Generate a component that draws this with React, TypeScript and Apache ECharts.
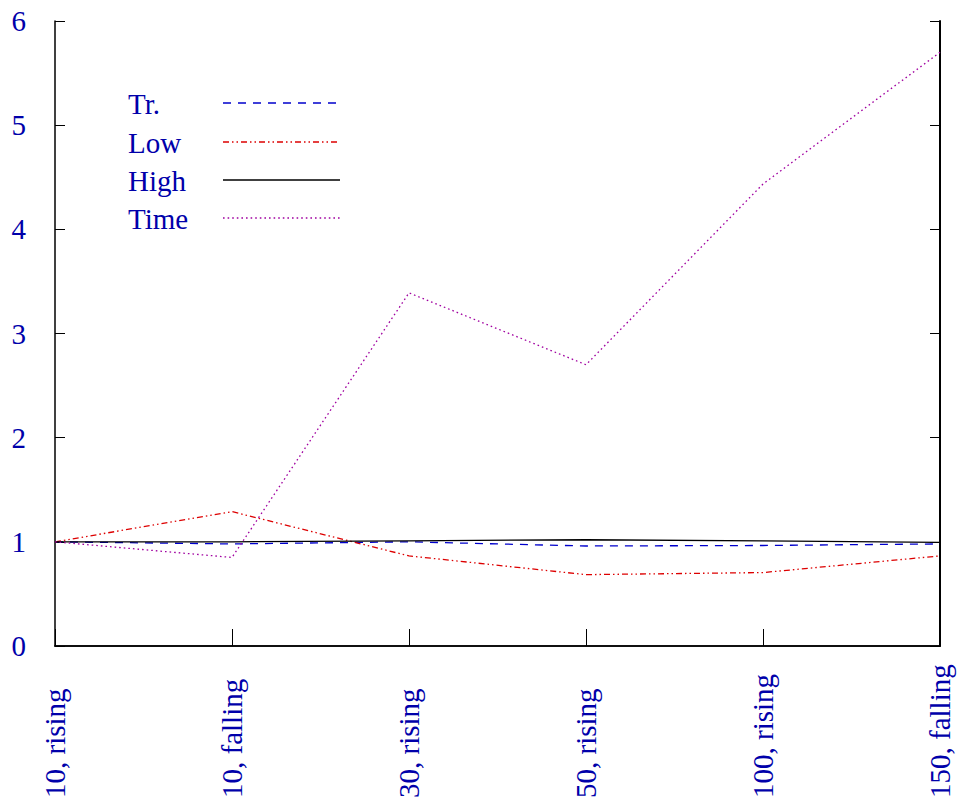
import React, { useEffect, useRef } from "react";
import * as echarts from "echarts";

const categories = ["10, rising", "10, falling", "30, rising", "50, rising", "100, rising", "150, falling"];
const trValues = [1.0, 0.98, 1.0, 0.96, 0.965, 0.98];
const lowValues = [1.0, 1.29, 0.865, 0.685, 0.705, 0.865];
const highValues = [1.0, 1.0, 1.01, 1.02, 1.01, 0.995];
const timeValues = [1.0, 0.85, 3.39, 2.7, 4.435, 5.7];
const yTicks = [0, 1, 2, 3, 4, 5, 6];
const legendNames = ["Tr.", "Low", "High", "Time"];

const FONT = "'Liberation Serif', 'Times New Roman', 'DejaVu Serif', serif";
const TEXT_COLOR = "#0000aa";

const styles = [
  { color: "#0000cc", width: 1.3, type: [8, 7] as any },
  { color: "#dd0000", width: 1.3, type: [6, 3, 1.5, 3, 1.5, 3] as any },
  { color: "#000000", width: 1.3, type: "solid" as any },
  { color: "#a000a0", width: 1.3, type: [1.6, 3] as any },
];

export default function App() {
  const ref = useRef<HTMLDivElement>(null);
  useEffect(() => {
    if (!ref.current) return;
    const chart = echarts.init(ref.current, undefined, { renderer: "svg" });
    const seriesData = [trValues, lowValues, highValues, timeValues];
    const legendGraphics: any[] = [];
    const baseY = [104, 143, 181, 219];
    legendNames.forEach((name, i) => {
      legendGraphics.push({
        type: "text",
        left: 128,
        top: baseY[i] - 15,
        style: { text: name, fill: TEXT_COLOR, font: `29px ${FONT}` },
      });
      legendGraphics.push({
        type: "line",
        shape: { x1: 223, y1: baseY[i] - 1, x2: 340, y2: baseY[i] - 1 },
        style: { stroke: styles[i].color, lineWidth: styles[i].width, lineDash: Array.isArray(styles[i].type) ? styles[i].type : null },
      });
    });
    chart.setOption({
      animation: false,
      backgroundColor: "#ffffff",
      grid: { left: 55, right: 18, top: 21, bottom: 155, containLabel: false },
      xAxis: [
        {
          type: "category",
          data: categories,
          boundaryGap: false,
          position: "bottom",
          axisLine: { show: true, lineStyle: { color: "#000", width: 1.5 } },
          axisTick: { show: true, inside: true, length: 17, alignWithLabel: true, interval: 0, lineStyle: { color: "#000", width: 1 } },
          axisLabel: {
            show: true,
            rotate: 90,
            interval: 0,
            margin: 152,
            align: "left",
            verticalAlign: "middle",
            hideOverlap: false,
            color: TEXT_COLOR,
            fontFamily: FONT,
            fontSize: 29,
          },
          splitLine: { show: false },
        },
        {
          type: "category",
          data: categories,
          boundaryGap: false,
          position: "top",
          axisLine: { show: true, lineStyle: { color: "#000", width: 1.5 } },
          axisTick: { show: false },
          axisLabel: { show: false },
          splitLine: { show: false },
        },
      ],
      yAxis: [
        {
          type: "value",
          min: yTicks[0],
          max: yTicks[yTicks.length - 1],
          interval: 1,
          position: "left",
          axisLine: { show: true, lineStyle: { color: "#000", width: 1.5 } },
          axisTick: { show: true, inside: true, length: 10, lineStyle: { color: "#000", width: 1 } },
          axisLabel: { show: true, margin: 29, color: TEXT_COLOR, fontFamily: FONT, fontSize: 29 },
          splitLine: { show: false },
        },
        {
          type: "value",
          min: yTicks[0],
          max: yTicks[yTicks.length - 1],
          interval: 1,
          position: "right",
          axisLine: { show: true, lineStyle: { color: "#000", width: 2 } },
          axisTick: { show: true, inside: true, length: 10, lineStyle: { color: "#000", width: 1 } },
          axisLabel: { show: false },
          splitLine: { show: false },
        },
      ],
      series: legendNames.map((name, i) => ({
        name,
        type: "line",
        data: seriesData[i],
        xAxisIndex: 0,
        yAxisIndex: 0,
        symbol: "none",
        smooth: false,
        lineStyle: { color: styles[i].color, width: styles[i].width, type: styles[i].type },
        itemStyle: { color: styles[i].color },
        z: i === 3 ? 3 : 2,
      })),
      graphic: legendGraphics,
    });
    return () => chart.dispose();
  }, []);
  return <div ref={ref} style={{ position: "fixed", left: 0, top: 0, width: 958, height: 801, background: "#fff" }} />;
}
